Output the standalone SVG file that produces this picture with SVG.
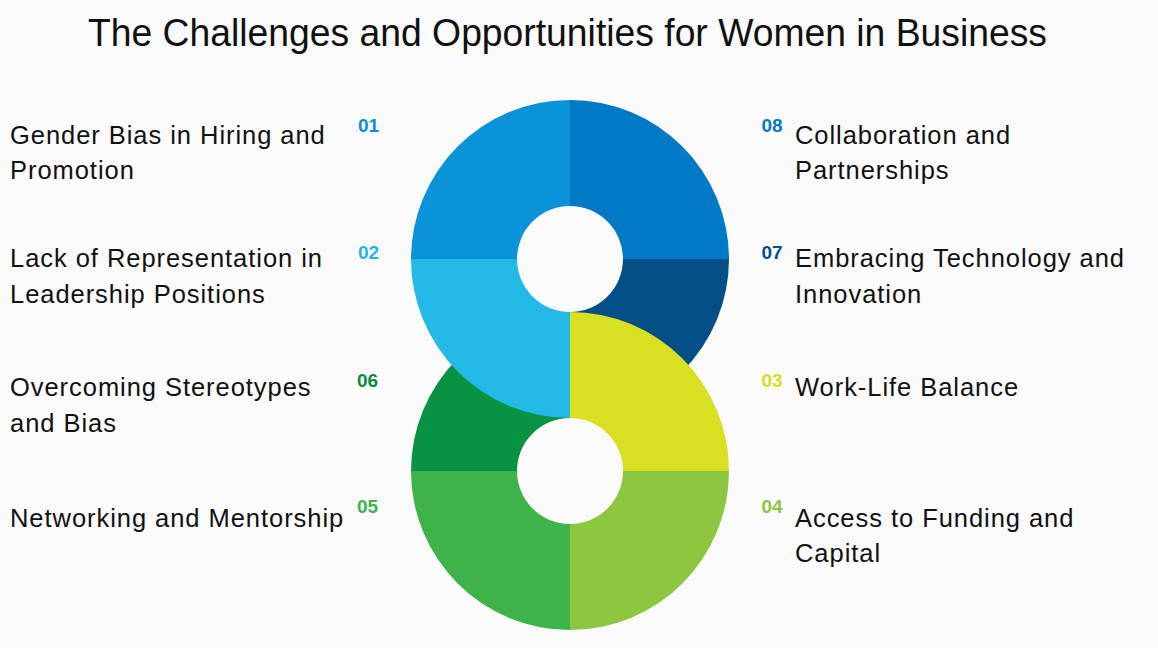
<svg xmlns="http://www.w3.org/2000/svg" width="1158" height="648" viewBox="0 0 1158 648">
<style>
.bg{fill:#fafafa}
.title{font-family:"Liberation Sans",Arial,sans-serif;font-size:38px;fill:#111}
.lbl{font-family:"Liberation Sans",Arial,sans-serif;font-size:25.5px;letter-spacing:0.95px;fill:#111}
.num{font-family:"Liberation Sans",Arial,sans-serif;font-size:19px;font-weight:bold}
</style>
<rect class="bg" x="0" y="0" width="1158" height="648"/>
<text class="title" x="88" y="45.5" textLength="959" lengthAdjust="spacingAndGlyphs">The Challenges and Opportunities for Women in Business</text>

<g id="n01">
<path d="M411,259 A159,159 0 0 1 570,100 L570,206 A53,53 0 0 0 517,259 Z" fill="#0a93d9"/>
<text class="num" x="358" y="131.5" fill="#0a8fd0">01</text>
<text class="lbl" x="10" y="144.3">Gender Bias in Hiring and</text>
<text class="lbl" x="10" y="179.3">Promotion</text>
</g>
<g id="n08">
<path d="M570,100 A159,159 0 0 1 729,259 L623,259 A53,53 0 0 0 570,206 Z" fill="#0079c6"/>
<text class="num" x="761.5" y="131.5" fill="#0a78c6">08</text>
<text class="lbl" x="795" y="144.3">Collaboration and</text>
<text class="lbl" x="795" y="179.3">Partnerships</text>
</g>
<g id="n07">
<path d="M729,259 A159,159 0 0 1 570,418 L570,312 A53,53 0 0 0 623,259 Z" fill="#044f88"/>
<text class="num" x="761.5" y="259.3" fill="#074c8c">07</text>
<text class="lbl" x="795" y="267.3">Embracing Technology and</text>
<text class="lbl" x="795" y="302.7">Innovation</text>
</g>
<g id="n03">
<path d="M570,312 A159,159 0 0 1 729,471 L623,471 A53,53 0 0 0 570,418 Z" fill="#d9e021"/>
<text class="num" x="761.5" y="386.7" fill="#d5e01e">03</text>
<text class="lbl" x="795" y="396">Work-Life Balance</text>
</g>
<g id="n04">
<path d="M729,471 A159,159 0 0 1 570,630 L570,524 A53,53 0 0 0 623,471 Z" fill="#8dc63f"/>
<text class="num" x="761.5" y="513.3" fill="#8cc43d">04</text>
<text class="lbl" x="795" y="526.7">Access to Funding and</text>
<text class="lbl" x="795" y="561.7">Capital</text>
</g>
<g id="n05">
<path d="M570,630 A159,159 0 0 1 411,471 L517,471 A53,53 0 0 0 570,524 Z" fill="#3db34a"/>
<text class="num" x="357" y="513.3" fill="#3cb44a">05</text>
<text class="lbl" x="10" y="526.7">Networking and Mentorship</text>
</g>
<g id="n06">
<path d="M411,471 A159,159 0 0 1 570,312 L570,418 A53,53 0 0 0 517,471 Z" fill="#079343"/>
<text class="num" x="357" y="387.3" fill="#0c8a3e">06</text>
<text class="lbl" x="10" y="396">Overcoming Stereotypes</text>
<text class="lbl" x="10" y="431.7">and Bias</text>
</g>
<g id="n02">
<path d="M570,418 A159,159 0 0 1 411,259 L517,259 A53,53 0 0 0 570,312 Z" fill="#22b9e7"/>
<text class="num" x="358" y="259.3" fill="#22b5e4">02</text>
<text class="lbl" x="10" y="267.3">Lack of Representation in</text>
<text class="lbl" x="10" y="302.7">Leadership Positions</text>
</g>
<g id="connectors"></g>
</svg>
